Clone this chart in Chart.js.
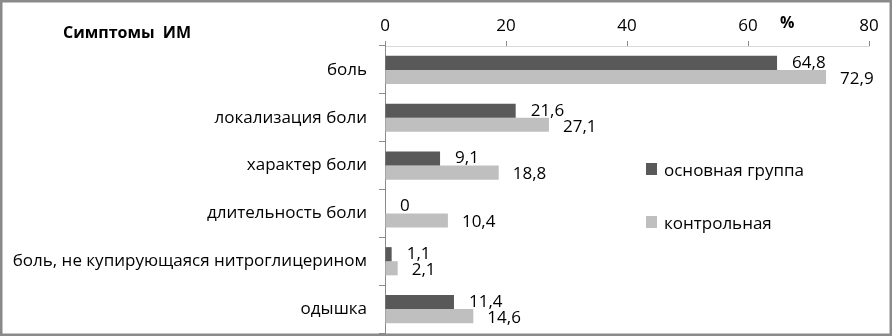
<!DOCTYPE html>
<html>
<head>
<meta charset="utf-8">
<script src="https://cdn.jsdelivr.net/npm/chart.js@4/dist/chart.umd.min.js"></script>
<style>
html,body{margin:0;padding:0;background:#fff;}
</style>
</head>
<body>
<canvas id="c" width="892" height="336"></canvas>
<script>
const categories = ['боль', 'локализация боли', 'характер боли', 'длительность боли', 'боль, не купирующаяся нитроглицерином', 'одышка'];
const mainGroup = [64.8, 21.6, 9.1, 0, 1.1, 11.4];
const controlGroup = [72.9, 27.1, 18.8, 10.4, 2.1, 14.6];
const seriesNames = ['основная группа', 'контрольная'];
const xTicks = [0, 20, 40, 60, 80];
const chartTitle = 'Симптомы  ИМ';
const unitLabel = '%';

const FONT = '"Open Sans", "Liberation Sans", sans-serif';
const DARK = '#595959';
const LIGHT = '#bfbfbf';

function fmt(v){ return v === 0 ? '0' : v.toFixed(1).replace('.', ','); }

const decor = {
  id: 'decor',
  afterDatasetsDraw(chart){
    const ctx = chart.ctx;
    ctx.save();
    ctx.fillStyle = '#000';
    ctx.font = '17px ' + FONT;
    ctx.textAlign = 'left';
    ctx.textBaseline = 'middle';
    chart.data.datasets.forEach((ds, di) => {
      const meta = chart.getDatasetMeta(di);
      meta.data.forEach((bar, i) => {
        const dx = di === 0 ? 15 : 14;
        const dy = di === 0 ? 0 : 2;
        ctx.fillText(fmt(ds.data[i]), bar.x + dx, bar.y + dy);
      });
    });
    // title
    ctx.font = 'bold 16px ' + FONT;
    ctx.fillText(chartTitle, 63, 33);
    ctx.fillText(unitLabel, 780, 23);
    // legend
    ctx.font = '17px ' + FONT;
    const ly = [169, 222];
    chart.data.datasets.forEach((ds, di) => {
      ctx.fillStyle = ds.backgroundColor;
      ctx.fillRect(646, ly[di] - 6, 11, 12);
      ctx.fillStyle = '#000';
      ctx.fillText(ds.label, 664, ly[di] + 2);
    });
    // outer border
    ctx.strokeStyle = '#8a8a8a';
    ctx.lineWidth = 2.5;
    ctx.strokeRect(1.25, 1.25, 889.5, 333.5);
    ctx.restore();
  }
};

new Chart(document.getElementById('c'), {
  type: 'bar',
  data: {
    labels: categories,
    datasets: [
      { label: seriesNames[0], data: mainGroup, backgroundColor: DARK, barPercentage: 1, categoryPercentage: 0.59 },
      { label: seriesNames[1], data: controlGroup, backgroundColor: LIGHT, barPercentage: 1, categoryPercentage: 0.59 }
    ]
  },
  options: {
    indexAxis: 'y',
    responsive: false,
    animation: false,
    devicePixelRatio: 1,
    layout: { padding: { top: 0, left: 0, right: 23, bottom: 3 } },
    plugins: { legend: { display: false }, tooltip: { enabled: false } },
    scales: {
      x: {
        position: 'top',
        min: xTicks[0],
        max: xTicks[xTicks.length - 1],
        afterBuildTicks(scale){ scale.ticks = xTicks.map(v => ({ value: v })); },
        afterFit(scale){ scale.height = 46; scale.paddingLeft = 0; scale.paddingRight = 0; },
        ticks: { color: '#000', font: { size: 17, family: FONT }, padding: 5 },
        grid: { drawOnChartArea: false, drawTicks: true, tickLength: 5, color: '#8a8a8a' },
        border: { display: true, color: '#d9d9d9' }
      },
      y: {
        afterFit(scale){ scale.width = 385; scale.paddingTop = 0; scale.paddingBottom = 0; },
        ticks: { color: '#000', font: { size: 17, family: FONT }, padding: 12 },
        grid: { offset: true, drawOnChartArea: false, drawTicks: true, tickLength: 6, color: '#8a8a8a' },
        border: { display: true, color: '#8a8a8a' }
      }
    }
  },
  plugins: [decor]
});
</script>
</body>
</html>
